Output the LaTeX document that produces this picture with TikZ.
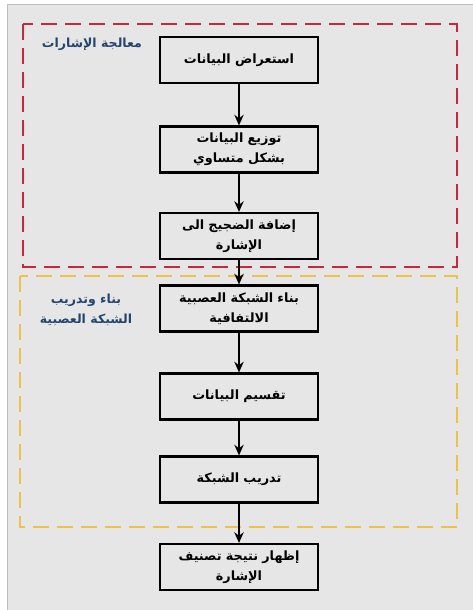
\documentclass[tikz,border=0pt]{standalone}
\usepackage{fontspec}
\TeXXeTstate=1
\newfontfamily\arabicfont[Script=Arabic]{DejaVu Sans}
\usetikzlibrary{arrows.meta}
\definecolor{bggray}{HTML}{E6E6E6}
\definecolor{framegray}{HTML}{BDBDBD}
\definecolor{redd}{HTML}{C8283C}
\definecolor{yell}{HTML}{EEC24A}
\definecolor{lblblue}{HTML}{24466E}
\begin{document}
\begin{tikzpicture}[x=0.75pt,y=-0.75pt,
  stepbox/.style={draw=black,line width=1.6pt,fill=bggray,minimum width=118.5pt,minimum height=34.5pt,text width=114pt,align=center,inner sep=1pt,font=\arabicfont\bfseries\fontsize{9.6}{15}\selectfont},
  flow/.style={line width=1.4pt,-{Stealth[length=8pt,width=7pt]}},
  grp/.style={dashed,line width=1.6pt,dash pattern=on 12pt off 6pt},
  lbl/.style={text=lblblue,align=center,font=\arabicfont\bfseries\fontsize{9.4}{15}\selectfont}]
\useasboundingbox (0,0) rectangle (472,610);
\fill[white] (0,0) rectangle (472,610);
\fill[bggray,draw=framegray,line width=1pt] (7.5,4.5) rectangle (475,615);
% groups
\draw[grp,draw=yell] (20,276) rectangle (457,527);
\draw[grp,draw=redd] (23,24) rectangle (457,267);
% boxes
\node[stepbox] (b1) at (239,60) {\beginR استعراض البيانات\endR};
\node[stepbox] (b2) at (239,149.5) {\beginR توزيع البيانات\endR\\\beginR بشكل متساوي\endR};
\node[stepbox] (b3) at (239,236) {\beginR إضافة الضجيج الى\endR\\\beginR الإشارة\endR};
\node[stepbox] (b4) at (239,308.5) {\beginR بناء الشبكة العصبية\endR\\\beginR الالتفافية\endR};
\node[stepbox] (b5) at (239,396.5) {\beginR تقسيم البيانات\endR};
\node[stepbox] (b6) at (239,479.5) {\beginR تدريب الشبكة\endR};
\node[stepbox] (b7) at (239,567) {\beginR إظهار نتيجة تصنيف\endR\\\beginR الإشارة\endR};
% labels
\node[lbl] (l1) at (92,44) {\beginR معالجة الإشارات\endR};
\node[lbl] (l2) at (86,310) {\beginR بناء وتدريب\endR\\\beginR الشبكة العصبية\endR};
% arrows
\draw[flow] (b1) -- (b2);
\draw[flow] (b2) -- (b3);
\draw[flow] (b3) -- (b4);
\draw[flow] (b4) -- (b5);
\draw[flow] (b5) -- (b6);
\draw[flow] (b6) -- (b7);
\end{tikzpicture}
\end{document}
